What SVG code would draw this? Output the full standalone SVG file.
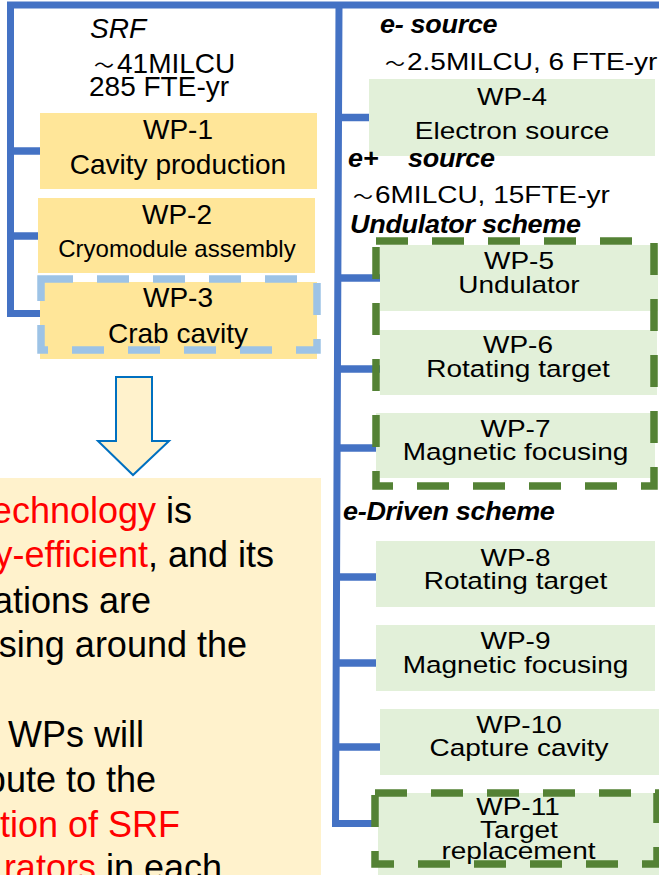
<svg xmlns="http://www.w3.org/2000/svg" width="659" height="875" viewBox="0 0 659 875">
<style>
.ln{stroke:#4472C4;stroke-width:7;fill:none;stroke-linejoin:miter}
.br{stroke:#4472C4;stroke-width:7.5;fill:none}
.y{fill:#FFE699}
.g{fill:#E2F0D9}
.t{font-family:"Liberation Sans",Arial,"Noto Sans CJK SC",sans-serif;font-size:28px;fill:#000}
.c{text-anchor:middle}
.e{text-anchor:end}
.s24{font-size:24px}
.tl{font-size:20px}
.hd{font-style:italic;font-weight:bold;font-size:27px;letter-spacing:-0.3px}
.dg{fill:none;stroke:#548235;stroke-width:7.5;stroke-dasharray:32 24}
.db{fill:none;stroke:#9DC3E6;stroke-width:7.5;stroke-dasharray:32 24}
.big{font-size:36px}
.red{fill:#FF0000}
</style>

<g id="connectors">
  <path class="ln" d="M659,5 H10.5 V313.5 H40"/>
  <path class="br" d="M10,151 H40"/>
  <path class="br" d="M10,236 H38"/>
  <path class="ln" d="M339,5 L335.5,823.5 H373"/>
  <path class="br" d="M338,117.5 H369"/>
  <path class="br" d="M338,278 H380"/>
  <path class="br" d="M338,369 H383"/>
  <path class="br" d="M337,448 H376"/>
  <path class="br" d="M337,577 H380"/>
  <path class="br" d="M336,663 H381"/>
  <path class="br" d="M336,747 H381"/>
</g>

<g id="srf-header">
  <text class="t" x="90" y="38" font-style="italic">SRF</text>
  <text class="t" x="94" y="73"><tspan class="tl">～</tspan><tspan x="117">41MILCU</tspan></text>
  <text class="t" x="89" y="96">285 FTE-yr</text>
</g>

<g id="wp1">
  <rect class="y" x="40" y="113" width="277" height="76"/>
  <text class="t c" x="178" y="139">WP-1</text>
  <text class="t c" x="178" y="174">Cavity production</text>
</g>
<g id="wp2">
  <rect class="y" x="38" y="198" width="277" height="75"/>
  <text class="t c" x="177" y="224">WP-2</text>
  <text class="t c s24" x="177" y="257">Cryomodule assembly</text>
</g>
<g id="wp3">
  <rect class="y" x="40" y="282" width="277" height="77"/>
  <rect class="db" x="41" y="279" width="276" height="71"/>
  <text class="t c" x="178" y="307">WP-3</text>
  <text class="t c" x="178" y="343">Crab cavity</text>
</g>

<g id="arrow">
  <polygon points="116,377 152,377 152,441 169,441 133,475 98,441 116,441" fill="#FFF2CC" stroke="#0070C0" stroke-width="2"/>
</g>

<g id="note">
  <rect x="-5" y="478" width="326" height="402" fill="#FFF2CC"/>
  <text class="t big e" x="192" y="523"><tspan class="red">echnology</tspan> is</text>
  <text class="t big e" x="274" y="567"><tspan class="red">y-efficient</tspan>, and its</text>
  <text class="t big e" x="151" y="613">ations are</text>
  <text class="t big e" x="247" y="657">sing around the</text>
  <text class="t big e" x="144" y="747">WPs will</text>
  <text class="t big e" x="156" y="792">bute to the</text>
  <text class="t big e red" x="180" y="837">tion of SRF</text>
  <text class="t big e" x="222" y="880"><tspan class="red">rators</tspan> in each</text>
</g>

<g id="e-minus-header">
  <text class="t hd" x="380" y="33" transform="matrix(1 0 0 0.95 0 1.65)">e- source</text>
  <text class="t" x="385" y="70" transform="matrix(1 0 0 0.88 0 8.4)"><tspan class="tl">～</tspan><tspan x="407">2.5MILCU, 6 FTE-yr</tspan></text>
</g>

<g id="wp4">
  <rect class="g" x="369" y="79" width="286" height="77"/>
  <text class="t c" x="512" y="105" transform="matrix(1 0 0 0.86 0 14.7)">WP-4</text>
  <text class="t c" x="512" y="139" transform="matrix(1 0 0 0.86 0 19.46)">Electron source</text>
</g>

<g id="e-plus-header">
  <text class="t hd" x="348" y="167" transform="matrix(1 0 0 0.95 0 8.35)">e+ <tspan x="408">source</tspan></text>
  <text class="t" x="353" y="203" transform="matrix(1 0 0 0.88 0 24.36)"><tspan class="tl">～</tspan><tspan x="375">6MILCU, 15FTE-yr</tspan></text>
  <text class="t hd" x="350" y="233" transform="matrix(1 0 0 0.95 0 11.65)">Undulator scheme</text>
</g>

<g id="wp5">
  <rect class="g" x="380" y="245" width="278" height="66"/>
  <text class="t c" x="519" y="269" transform="matrix(1 0 0 0.86 0 37.66)">WP-5</text>
  <text class="t c" x="519" y="293" transform="matrix(1 0 0 0.86 0 41.02)">Undulator</text>
</g>
<g id="wp6">
  <rect class="g" x="380" y="330" width="277" height="65"/>
  <text class="t c" x="518" y="353" transform="matrix(1 0 0 0.86 0 49.42)">WP-6</text>
  <text class="t c" x="518" y="377" transform="matrix(1 0 0 0.86 0 52.78)">Rotating target</text>
</g>
<g id="wp7">
  <rect class="g" x="376" y="413" width="279" height="65"/>
  <text class="t c" x="515.5" y="437" transform="matrix(1 0 0 0.86 0 61.18)">WP-7</text>
  <text class="t c" x="515.5" y="460" transform="matrix(1 0 0 0.86 0 64.4)">Magnetic focusing</text>
</g>
<g id="undulator-group">
  <rect class="dg" x="376" y="241" width="278" height="245"/>
</g>

<g id="e-driven-header">
  <text class="t hd" x="343" y="520" transform="matrix(1 0 0 0.95 0 26)">e-Driven scheme</text>
</g>

<g id="wp8">
  <rect class="g" x="376" y="541" width="279" height="66"/>
  <text class="t c" x="515.5" y="566" transform="matrix(1 0 0 0.86 0 79.24)">WP-8</text>
  <text class="t c" x="515.5" y="589" transform="matrix(1 0 0 0.86 0 82.46)">Rotating target</text>
</g>
<g id="wp9">
  <rect class="g" x="376" y="625" width="279" height="66"/>
  <text class="t c" x="515.5" y="649" transform="matrix(1 0 0 0.86 0 90.86)">WP-9</text>
  <text class="t c" x="515.5" y="673" transform="matrix(1 0 0 0.86 0 94.22)">Magnetic focusing</text>
</g>
<g id="wp10">
  <rect class="g" x="380" y="709" width="279" height="66"/>
  <text class="t c" x="519" y="733" transform="matrix(1 0 0 0.86 0 102.62)">WP-10</text>
  <text class="t c" x="519" y="756" transform="matrix(1 0 0 0.86 0 105.84)">Capture cavity</text>
</g>
<g id="wp11">
  <rect class="g" x="378" y="793" width="281" height="82"/>
  <rect class="dg" x="375" y="793" width="282" height="71" stroke-width="7"/>
  <text class="t c" x="518" y="815" transform="matrix(1 0 0 0.86 0 114.1)">WP-11</text>
  <text class="t c" x="519" y="838" transform="matrix(1 0 0 0.86 0 117.32)">Target</text>
  <text class="t c" x="518.5" y="859" transform="matrix(1 0 0 0.86 0 120.26)">replacement</text>
</g>
</svg>
